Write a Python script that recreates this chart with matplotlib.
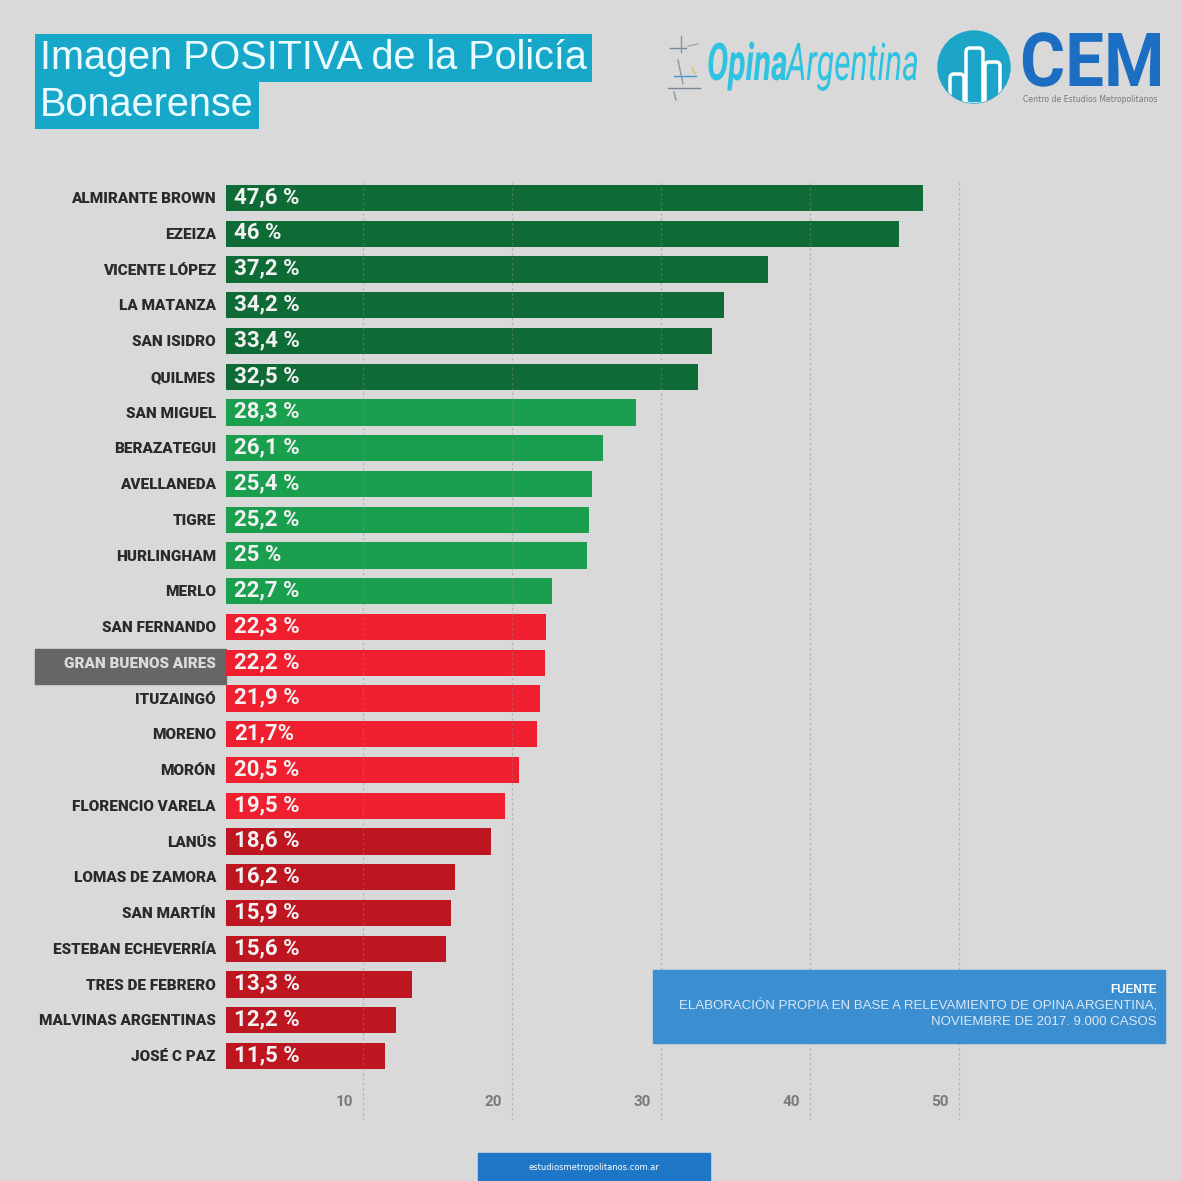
import matplotlib.pyplot as plt
import matplotlib.patches as mpatches
from matplotlib.lines import Line2D
from matplotlib.textpath import TextPath
from matplotlib.font_manager import FontProperties
from matplotlib.transforms import Affine2D, blended_transform_factory

# data
partidos = ["ALMIRANTE BROWN", "EZEIZA", "VICENTE LÓPEZ", "LA MATANZA", "SAN ISIDRO",
            "QUILMES", "SAN MIGUEL", "BERAZATEGUI", "AVELLANEDA", "TIGRE",
            "HURLINGHAM", "MERLO", "SAN FERNANDO", "GRAN BUENOS AIRES", "ITUZAINGÓ",
            "MORENO", "MORÓN", "FLORENCIO VARELA", "LANÚS", "LOMAS DE ZAMORA",
            "SAN MARTÍN", "ESTEBAN ECHEVERRÍA", "TRES DE FEBRERO", "MALVINAS ARGENTINAS",
            "JOSÉ C PAZ"]
imagen_positiva = [47.6, 46.0, 37.2, 34.2, 33.4, 32.5, 28.3, 26.1, 25.4, 25.2,
                   25.0, 22.7, 22.3, 22.2, 21.9, 21.7, 20.5, 19.5, 18.6, 16.2,
                   15.9, 15.6, 13.3, 12.2, 11.5]
etiquetas = ["47,6 %", "46 %", "37,2 %", "34,2 %", "33,4 %", "32,5 %", "28,3 %",
             "26,1 %", "25,4 %", "25,2 %", "25 %", "22,7 %", "22,3 %", "22,2 %",
             "21,9 %", "21,7%", "20,5 %", "19,5 %", "18,6 %", "16,2 %", "15,9 %",
             "15,6 %", "13,3 %", "12,2 %", "11,5 %"]
ticks = [10, 20, 30, 40, 50]
fuente = ["ELABORACIÓN PROPIA EN BASE A RELEVAMIENTO DE OPINA ARGENTINA,",
          "NOVIEMBRE DE 2017. 9.000 CASOS"]

W, H = 1182, 1181
BG = "#d9d9d9"
colores = ["#0f6b36"] * 6 + ["#1a9f4f"] * 6 + ["#f01f2f"] * 6 + ["#bd1620"] * 7


def fx(px):
    return px / W


def fy(py):
    return 1 - py / H


fig = plt.figure(figsize=(W / 100, H / 100), dpi=100, facecolor=BG)
px2fig = Affine2D().scale(1 / W, 1 / H) + fig.transFigure


def text_path(parts, x0, x1, ybase, cap_h, color):
    # draw text as a path squeezed into a pixel box (for the logo lettering)
    paths, widths = [], []
    for s, prop in parts:
        tp = TextPath((0, 0), s, size=1, prop=prop)
        paths.append(tp)
        widths.append(tp.get_extents().x1)
    cap = TextPath((0, 0), "H", size=1, prop=parts[0][1]).get_extents().y1
    sy = cap_h / cap
    sx = (x1 - x0) / sum(widths)
    off = 0
    for tp, w in zip(paths, widths):
        tr = Affine2D().translate(off, 0).scale(sx, sy).translate(x0, H - ybase) + px2fig
        fig.patches.append(mpatches.PathPatch(tp, transform=tr, color=color, lw=0))
        off += w


# main axes: left edge at x=226px, top 180px, bottom 1120px
ax = fig.add_axes([fx(226), fy(1120), fx(1182) - fx(226), fy(180) - fy(1120)])
ax.set_facecolor(BG)
px_per_unit = 14.9
zero_px = 214
ax.set_xlim((226 - zero_px) / px_per_unit, (1182 - zero_px) / px_per_unit)
row0, step = 198, 35.75
ax.set_ylim(24 + (1120 - 1056) / step, -(row0 - 180) / step)

pos = list(range(len(partidos)))
ax.barh(pos, imagen_positiva, height=0.74, color=colores, zorder=2)

for t in ticks:
    ax.axvline(t, color="#8a8a8a", lw=0.9, ls=(0, (2, 2)), alpha=0.45, zorder=3)
    ax.annotate(str(t), xy=(t, 25.3), xytext=(-10, 0), textcoords="offset pixels",
                ha="right", va="center", fontsize=11, fontweight="bold",
                color="#7a7a7a", family="Roboto")

# gray box behind GRAN BUENOS AIRES
ax.add_patch(mpatches.Rectangle((35, H - 684), 226 - 35, 35, transform=px2fig,
                                color="#666666", zorder=1, clip_on=False))

tr = blended_transform_factory(ax.transAxes, ax.transData)
for i, (name, lab) in enumerate(zip(partidos, etiquetas)):
    col = "#dcdcdc" if name == "GRAN BUENOS AIRES" else "#2a2a2a"
    ax.text(-0.0105, i + 0.03, name, transform=tr, ha="right", va="center",
            fontsize=11, fontweight="black", color=col, family="Roboto",
            clip_on=False, zorder=5)
    ax.text(0.0085, i - 0.02, lab, transform=tr, ha="left", va="center", fontsize=16,
            fontweight="bold", color="#f2f2f2", family="Roboto", zorder=4)

for s in ax.spines.values():
    s.set_visible(False)
ax.set_xticks([])
ax.set_yticks([])

# title
title_kw = dict(fontsize=28.5, color="#eafcff", family="Liberation Sans", va="center", ha="left")
fig.text(fx(40), fy(58), "Imagen POSITIVA de la Policía",
         bbox=dict(facecolor="#17a8c9", edgecolor="none", pad=3.5), **title_kw)
fig.text(fx(40), fy(105), "Bonaerense",
         bbox=dict(facecolor="#17a8c9", edgecolor="none", pad=3.5), **title_kw)

# logos
bold_it = FontProperties(family="Roboto", weight="bold", style="italic")
reg_it = FontProperties(family="Roboto", weight="normal", style="italic")
text_path([("Opina", bold_it), ("Argentina", reg_it)], 707, 917, 80, 37, "#2fc3e2")
for xs, ys, c in [([670, 686], [48, 48], "#7a8794"), ([681, 681], [36, 52], "#8a96a2"),
                  ([688, 698], [46, 44], "#9aa8b5"), ([674, 696], [76, 76], "#3a9ad0"),
                  ([678, 683], [60, 84], "#8a96a0"), ([668, 700], [88, 88], "#7a8794"),
                  ([692, 695], [68, 74], "#e0c060"), ([674, 676], [92, 100], "#8a96a0")]:
    fig.lines.append(Line2D([fx(x) for x in xs], [fy(y) for y in ys], lw=1.0, color=c,
                            transform=fig.transFigure))

circle = mpatches.Circle((974, H - 67), 36, transform=px2fig, color="#1ca5c9")
fig.patches.append(circle)
for bx, by, bw in [(950, 74, 14), (966, 48, 17), (985, 62, 15)]:
    bar = mpatches.FancyBboxPatch((bx, H - 104), bw, 104 - by, transform=px2fig,
                                  boxstyle="round,pad=0,rounding_size=4",
                                  facecolor="#1ca5c9", edgecolor="white", lw=2.5)
    bar.set_clip_path(circle)
    fig.patches.append(bar)
text_path([("CEM", FontProperties(family="Roboto", weight="bold"))],
          1020, 1160, 86, 53, "#1b6ec2")
fig.text(fx(1090), fy(100), "Centro de Estudios Metropolitanos", fontsize=5.6,
         color="#7a7a7a", ha="center", va="center")

# source box
fig.patches.append(mpatches.Rectangle((fx(653), fy(1043)), fx(1165) - fx(653), fy(970) - fy(1043),
                                      transform=fig.transFigure, color="#3b8fd0", zorder=5))
fig.text(fx(1157), fy(990), "FUENTE", fontsize=8.5, fontweight="bold", color="white",
         family="Liberation Sans", ha="right", va="center", zorder=6)
for k, line in enumerate(fuente):
    fig.text(fx(1157), fy(1006 + 16 * k), line, fontsize=9.5, color="#dbe7f5",
             family="Liberation Sans", ha="right", va="center", zorder=6)

# footer
fig.patches.append(mpatches.Rectangle((fx(478), 0), fx(710) - fx(478), fy(1153),
                                      transform=fig.transFigure, color="#1e77c6"))
fig.text(fx(594), fy(1168), "estudiosmetropolitanos.com.ar", fontsize=6, color="white",
         ha="center", va="center")

fig.savefig("out.png", dpi=100, facecolor=BG)
